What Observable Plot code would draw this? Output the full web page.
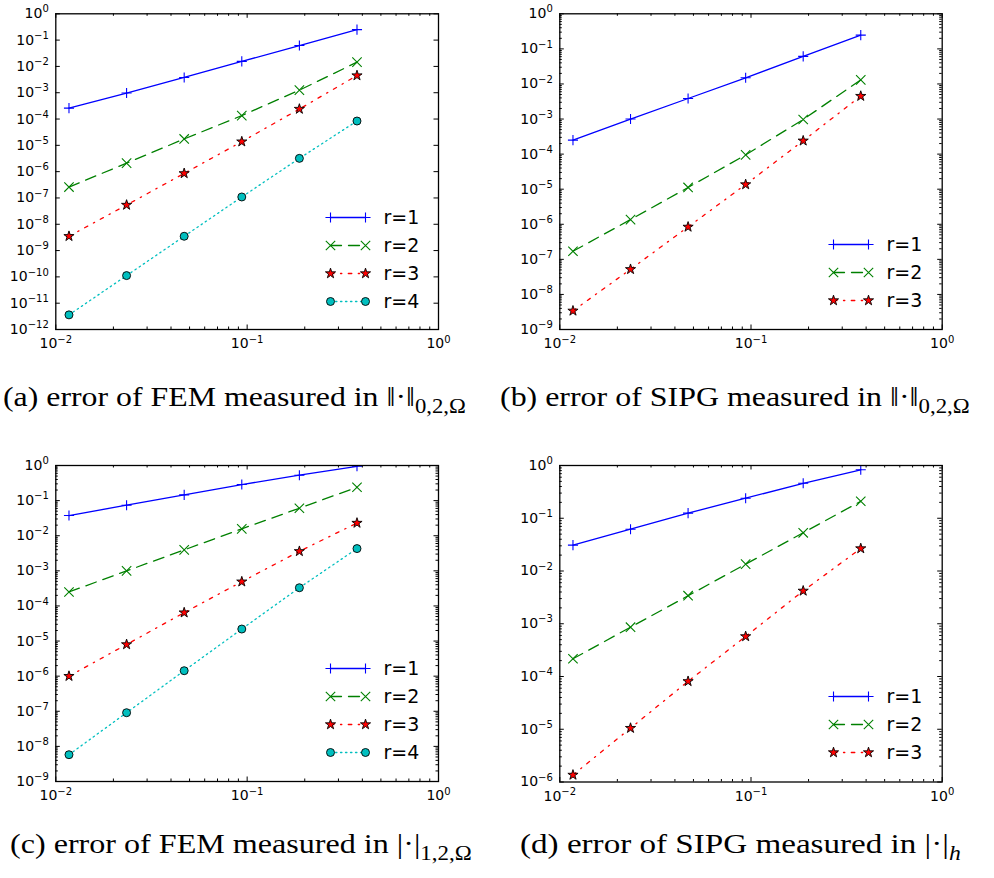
<!DOCTYPE html>
<html><head><meta charset="utf-8">
<script src="https://cdn.jsdelivr.net/npm/d3@7"></script>
<script src="https://cdn.jsdelivr.net/npm/@observablehq/plot@0.6"></script>
<style>
html,body{margin:0;padding:0;background:#fff;}
#root{position:relative;width:994px;height:878px;overflow:hidden;background:#fff;}
.abs{position:absolute;}
</style></head><body><div id="root"></div>
<script>
// ---------------- data ----------------
const hValues = [0.01171875, 0.0234375, 0.046875, 0.09375, 0.1875, 0.375];
const xTickValues = [0.01, 0.1, 1];
const seriesNames = ["r=1", "r=2", "r=3", "r=4"];

// (a) FEM, ||.||_{0,2,Omega}
const femL2_r1 = [2.6e-4, 9.7e-4, 3.8e-3, 1.55e-2, 6.2e-2, 0.25];
const femL2_r2 = [2.6e-7, 2.1e-6, 1.75e-5, 1.35e-4, 1.25e-3, 1.45e-2];
const femL2_r3 = [3.5e-9, 5.4e-8, 8.6e-7, 1.38e-5, 2.4e-4, 4.5e-3];
const femL2_r4 = [3.6e-12, 1.12e-10, 3.5e-9, 1.09e-7, 3.2e-6, 8.4e-5];
// (b) SIPG, ||.||_{0,2,Omega}
const sipgL2_r1 = [2.5e-4, 1.0e-3, 3.85e-3, 1.5e-2, 6.1e-2, 0.246];
const sipgL2_r2 = [1.7e-7, 1.36e-6, 1.12e-5, 9.5e-5, 9.7e-4, 1.31e-2];
const sipgL2_r3 = [3.4e-9, 5.2e-8, 8.4e-7, 1.36e-5, 2.4e-4, 4.5e-3];
// (c) FEM, |.|_{1,2,Omega}
const femH1_r1 = [3.76e-2, 7.4e-2, 0.146, 0.287, 0.53, 0.95];
const femH1_r2 = [2.5e-4, 9.95e-4, 3.95e-3, 1.57e-2, 6.07e-2, 0.24];
const femH1_r3 = [1.0e-6, 8.0e-6, 6.45e-5, 4.9e-4, 3.6e-3, 2.3e-2];
const femH1_r4 = [5.8e-9, 9.1e-8, 1.43e-6, 2.2e-5, 3.3e-4, 4.3e-3];
// (d) SIPG, |.|_h
const sipgH_r1 = [3.09e-2, 6.2e-2, 0.125, 0.24, 0.46, 0.83];
const sipgH_r2 = [2.17e-4, 8.6e-4, 3.4e-3, 1.35e-2, 5.3e-2, 0.21];
const sipgH_r3 = [1.36e-6, 1.05e-5, 8.1e-5, 5.75e-4, 4.2e-3, 2.67e-2];

const yMinExponents = [-12, -9, -9, -6];

const captionMain = [
  "(a) error of FEM measured in \u2016\u00b7\u2016",
  "(b) error of SIPG measured in \u2016\u00b7\u2016",
  "(c) error of FEM measured in |\u00b7|",
  "(d) error of SIPG measured in |\u00b7|"
];
const captionSub = ["0,2,\u03a9", "0,2,\u03a9", "1,2,\u03a9", "h"];

// ---------------- styles ----------------
const styles = {
  "r=1": {color: "#0000ff", dash: null, symbol: "plus", r: 3.35, fill: "none", stroke: "#0000ff", sw: 1.1},
  "r=2": {color: "#008000", dash: "11,7", symbol: "times", r: 4.35, fill: "none", stroke: "#008000", sw: 1.1},
  "r=3": {color: "#ff0000", dash: "3.5,6.5,1.3,6.5", symbol: "star", r: 3.2, fill: "#ff0000", stroke: "black", sw: 0.9},
  "r=4": {color: "#00bfbf", dash: "1.4,3.6", symbol: "circle", r: 4.0, fill: "#00bfbf", stroke: "black", sw: 0.9}
};

const root = document.getElementById("root");
const ns = "http://www.w3.org/2000/svg";
const fmt = d => "10^" + Math.round(Math.log10(d));

function superscriptLabels(svg) {
  svg.querySelectorAll('g[aria-label$="tick label"] text').forEach(t => {
    const s = t.textContent;
    const i = s.indexOf("^");
    if (i < 0) return;
    const base = s.slice(0, i), exp = s.slice(i + 1).replace("-", "\u2212");
    t.textContent = "";
    t.setAttribute("font-size", "14");
    t.style.fontSize = "14px";
    t.setAttribute("font-family", "DejaVu Sans");
    const a = document.createElementNS(ns, "tspan");
    a.textContent = base;
    t.appendChild(a);
    const b = document.createElementNS(ns, "tspan");
    b.textContent = exp;
    b.setAttribute("dy", "-5.8");
    b.style.fontSize = "10px";
    t.appendChild(b);
  });
}

function buildPanel(cfg) {
  const {left, top, width, height, mL, mR, mT, mB, yMinExp, minorY, series} = cfg;
  const H = height - mT - mB, W = width - mL - mR;
  const yMajor = d3.range(yMinExp, 1).map(e => Math.pow(10, e));
  const yMinor = minorY ? d3.range(yMinExp, 0).flatMap(e => d3.range(2, 10).map(k => k * Math.pow(10, e))) : [];
  const xMinor = d3.range(-2, 0).flatMap(e => d3.range(2, 10).map(k => k * Math.pow(10, e)));
  const MAJ = 4.5, MIN = 2.5;
  const tk = {stroke: "black", strokeWidth: 1};
  const marks = [
    Plot.ruleX(xTickValues, {x: d => d, insetTop: H - MAJ, ...tk}),
    Plot.ruleX(xTickValues, {x: d => d, insetBottom: H - MAJ, ...tk}),
    Plot.ruleX(xMinor, {x: d => d, insetTop: H - MIN, ...tk}),
    Plot.ruleX(xMinor, {x: d => d, insetBottom: H - MIN, ...tk}),
    Plot.ruleY(yMajor, {y: d => d, insetRight: W - MAJ, ...tk}),
    Plot.ruleY(yMajor, {y: d => d, insetLeft: W - MAJ, ...tk})
  ];
  if (yMinor.length) {
    marks.push(Plot.ruleY(yMinor, {y: d => d, insetRight: W - MIN, ...tk}));
    marks.push(Plot.ruleY(yMinor, {y: d => d, insetLeft: W - MIN, ...tk}));
  }
  for (const s of series) {
    const st = styles[s.name];
    const data = hValues.map((x, i) => ({x, y: s.values[i]}));
    marks.push(Plot.line(data, {x: "x", y: "y", stroke: st.color, strokeWidth: 1.3, strokeDasharray: st.dash, clip: true}));
  }
  for (const s of series) {
    const st = styles[s.name];
    const data = hValues.map((x, i) => ({x, y: s.values[i]}));
    marks.push(Plot.dot(data, {x: "x", y: "y", symbol: st.symbol, r: st.r, fill: st.fill, stroke: st.stroke, strokeWidth: st.sw, clip: true}));
  }
  marks.push(Plot.frame({stroke: "black", strokeWidth: 1.3}));
  marks.push(Plot.axisX(xTickValues, {tickSize: 0, tickPadding: 9, tickFormat: fmt, label: null, fontSize: 14, fill: "black"}));
  marks.push(Plot.axisY(yMajor, {tickSize: 0, tickPadding: 7, tickFormat: fmt, label: null, fontSize: 14, fill: "black"}));
  const svg = Plot.plot({
    width, height, marginLeft: mL, marginRight: mR, marginTop: mT, marginBottom: mB,
    x: {type: "log", domain: [0.01, 1]},
    y: {type: "log", domain: [Math.pow(10, yMinExp), 1]},
    style: {fontFamily: "DejaVu Sans", fontSize: "14px", color: "black", background: "transparent", overflow: "visible"},
    marks
  });
  superscriptLabels(svg);
  svg.classList.add("abs");
  svg.style.left = left + "px";
  svg.style.top = top + "px";
  root.appendChild(svg);
}

function buildLegend(series, x0, y0) {
  const pad = 12, L = 35, sp = 28.4, n = series.length;
  const width = pad + L + 75, height = 2 * pad + (n - 1) * sp;
  const names = series.map(s => s.name);
  const marks = [];
  for (const s of series) {
    const st = styles[s.name];
    const d = [{x: 0, y: s.name}, {x: 1, y: s.name}];
    marks.push(Plot.line(d, {x: "x", y: "y", stroke: st.color, strokeWidth: 1.3, strokeDasharray: st.dash}));
    marks.push(Plot.dot(d, {x: "x", y: "y", symbol: st.symbol, r: st.r, fill: st.fill, stroke: st.stroke, strokeWidth: st.sw}));
  }
  marks.push(Plot.text(names, {x: () => 1, y: d => d, text: d => d, dx: 18, textAnchor: "start", fontSize: 19, fill: "black"}));
  const svg = Plot.plot({
    width, height, marginLeft: pad, marginRight: width - pad - L, marginTop: pad, marginBottom: pad,
    x: {domain: [0, 1], axis: null},
    y: {type: "point", domain: names, padding: 0, axis: null},
    style: {fontFamily: "DejaVu Sans", color: "black", background: "transparent", overflow: "visible"},
    marks
  });
  svg.classList.add("abs");
  svg.style.left = (x0 - pad) + "px";
  svg.style.top = (y0 - pad) + "px";
  root.appendChild(svg);
}

const sA = [femL2_r1, femL2_r2, femL2_r3, femL2_r4].map((v, i) => ({name: seriesNames[i], values: v}));
const sB = [sipgL2_r1, sipgL2_r2, sipgL2_r3].map((v, i) => ({name: seriesNames[i], values: v}));
const sC = [femH1_r1, femH1_r2, femH1_r3, femH1_r4].map((v, i) => ({name: seriesNames[i], values: v}));
const sD = [sipgH_r1, sipgH_r2, sipgH_r3].map((v, i) => ({name: seriesNames[i], values: v}));

buildPanel({left: 0, top: 0, width: 450, height: 360, mL: 55.3, mR: 12, mT: 13.3, mB: 31, yMinExp: yMinExponents[0], minorY: false, series: sA});
buildPanel({left: 500, top: 0, width: 494, height: 360, mL: 59.3, mR: 52.3, mT: 13.3, mB: 31, yMinExp: yMinExponents[1], minorY: true, series: sB});
buildPanel({left: 0, top: 450, width: 450, height: 360, mL: 55.3, mR: 12, mT: 15, mB: 29, yMinExp: yMinExponents[2], minorY: true, series: sC});
buildPanel({left: 500, top: 450, width: 494, height: 360, mL: 59.3, mR: 52.3, mT: 15, mB: 28.5, yMinExp: yMinExponents[3], minorY: true, series: sD});

buildLegend(sA, 330, 215.7);
buildLegend(sB, 833, 244);
buildLegend(sC, 330, 666.7);
buildLegend(sD, 833, 696.3);

// ---------------- captions ----------------
const capPos = [
  {x: 3, y: 406, w: 463},
  {x: 500, y: 406, w: 470},
  {x: 10, y: 853, w: 462},
  {x: 520, y: 853, w: 441}
];
const cap = document.createElementNS(ns, "svg");
cap.setAttribute("width", 994); cap.setAttribute("height", 878);
cap.classList.add("abs"); cap.style.left = "0px"; cap.style.top = "0px";
root.appendChild(cap);
captionMain.forEach((m, i) => {
  const t = document.createElementNS(ns, "text");
  t.setAttribute("font-family", "Liberation Serif, DejaVu Serif, serif");
  t.setAttribute("font-size", "28");
  t.setAttribute("fill", "black");
  const a = document.createElementNS(ns, "tspan"); a.textContent = m; t.appendChild(a);
  const b = document.createElementNS(ns, "tspan"); b.textContent = captionSub[i];
  b.setAttribute("dy", "7"); b.setAttribute("font-size", "20");
  if (captionSub[i] === "h") b.setAttribute("font-style", "italic");
  t.appendChild(b);
  cap.appendChild(t);
  const len = t.getComputedTextLength();
  const p = capPos[i];
  t.setAttribute("transform", `translate(${p.x},${p.y}) scale(${p.w / len},1)`);
});
</script></body></html>
